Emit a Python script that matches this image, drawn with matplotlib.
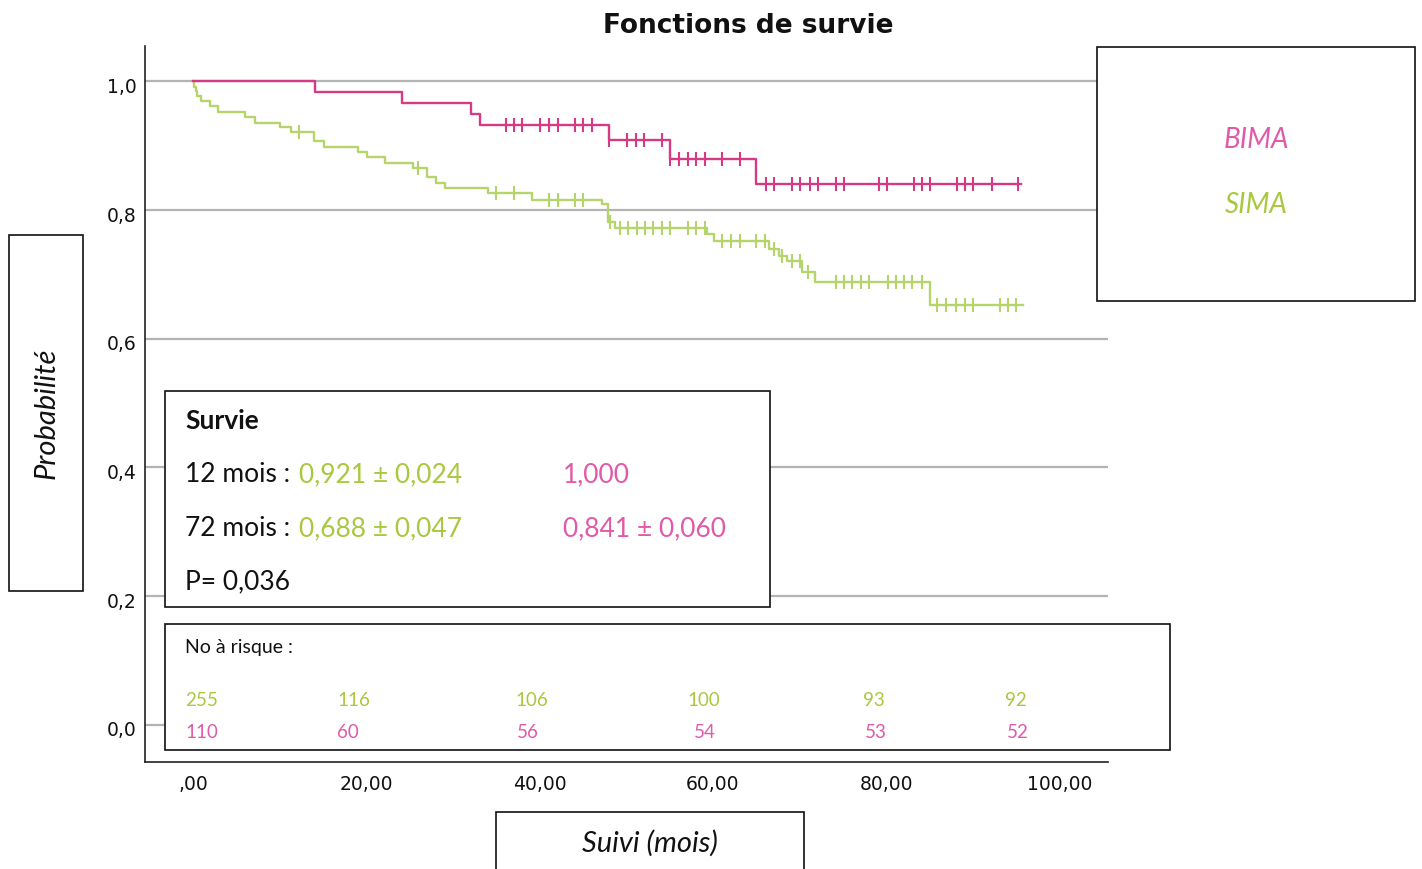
import numpy as np
import matplotlib
matplotlib.use("Agg")
import matplotlib.pyplot as plt
from matplotlib.patches import Rectangle
from matplotlib.transforms import ScaledTranslation

# ---------------- data ----------------
title = "Fonctions de survie"
groups = ["BIMA", "SIMA"]

# SIMA (green) Kaplan-Meier: event times (months) and survival after each event
sima_event_t = [0.1, 0.3, 0.5, 0.9, 2.0, 2.9, 6.0, 7.2, 10.0, 11.3, 14.0, 15.1, 19.1,
                20.1, 22.2, 25.4, 27.0, 28.1, 29.1, 34.1, 39.1, 47.2, 47.9, 48.7,
                59.3, 60.1, 66.5, 67.6, 68.5, 70.3, 71.8, 85.1]
sima_event_s = [0.992, 0.985, 0.977, 0.970, 0.962, 0.953, 0.945, 0.936, 0.929, 0.921,
                0.907, 0.898, 0.891, 0.882, 0.873, 0.866, 0.851, 0.842, 0.834, 0.826,
                0.816, 0.809, 0.782, 0.772, 0.763, 0.752, 0.740, 0.729, 0.721, 0.704,
                0.688, 0.652]
sima_censor_t = [12.2, 26.0, 35.0, 37.0, 41.1, 42.1, 44.1, 45.0, 48.1, 49.3, 50.2, 51.2,
                 52.2, 53.1, 54.1, 55.0, 57.1, 58.1, 59.1, 61.1, 62.1, 63.1, 65.0, 66.0,
                 67.0, 68.0, 69.1, 70.0, 71.0, 74.2, 75.1, 76.1, 77.1, 78.0, 80.2, 81.1,
                 82.1, 83.0, 84.1, 85.9, 86.9, 88.1, 89.1, 90.0, 93.1, 94.1, 95.0]
sima_end = 95.8

# BIMA (pink)
bima_event_t = [14.1, 24.1, 32.1, 33.1, 48.0, 55.0, 65.0]
bima_event_s = [0.983, 0.966, 0.949, 0.932, 0.909, 0.880, 0.841]
bima_censor_t = [36.1, 37.0, 38.0, 40.0, 41.1, 42.1, 44.1, 45.0, 46.1, 48.0, 50.1, 51.1,
                 52.1, 54.1, 55.1, 56.1, 57.1, 58.1, 59.1, 61.1, 63.1, 66.1, 67.0, 69.1,
                 70.1, 71.2, 72.1, 74.2, 75.1, 79.2, 80.1, 83.2, 84.1, 85.0, 88.2, 89.1,
                 90.0, 92.2, 95.2]
bima_end = 95.6

x_ticks = [0, 20, 40, 60, 80, 100]
x_ticklabels = [",00", "20,00", "40,00", "60,00", "80,00", "100,00"]
y_ticks = [0.0, 0.2, 0.4, 0.6, 0.8, 1.0]
y_ticklabels = ["0,0", "0,2", "0,4", "0,6", "0,8", "1,0"]

survie_rows = [("12 mois : ", "0,921 ± 0,024", "1,000"),
               ("72 mois : ", "0,688 ± 0,047", "0,841 ± 0,060")]
p_value_text = "P= 0,036"
risk_sima = ["255", "116", "106", "100", "93", "92"]
risk_bima = ["110", "60", "56", "54", "53", "52"]

# ---------------- style ----------------
W, H = 1422, 870
PINK = "#d63a85"
GREEN = "#b5d56a"
PINK_T = "#e05aa8"
GREEN_T = "#a9c83f"
BOXFONT = "Lato"

fig = plt.figure(figsize=(W / 100, H / 100), dpi=100)
ax = fig.add_axes([145 / W, 1 - 763 / H, (1108 - 145) / W, (763 - 47) / H])


def km_steps(t, s, end):
    tt = np.concatenate([[0.0], np.asarray(t, float), [end]])
    ss = np.concatenate([[1.0], np.asarray(s, float), [s[-1]]])
    return tt, ss


def surv_at(t_query, t, s):
    t = np.asarray(t, float)
    s = np.asarray(s, float)
    idx = np.searchsorted(t, np.asarray(t_query, float), side="right") - 1
    return np.where(idx >= 0, s[np.clip(idx, 0, None)], 1.0)


for et, es, ct, end, col in [(sima_event_t, sima_event_s, sima_censor_t, sima_end, GREEN),
                             (bima_event_t, bima_event_s, bima_censor_t, bima_end, PINK)]:
    tt, ss = km_steps(et, es, end)
    ax.step(tt, ss, where="post", color=col, lw=1.7, zorder=3)
    ax.plot(ct, surv_at(ct, et, es), ls="none", marker="|", ms=10, mew=1.5,
            color=col, zorder=4)

ax.set_xlim(-5.54, 105.6)
ax.set_ylim(-0.058, 1.055)
ax.set_yticks(y_ticks)
ax.set_yticklabels(y_ticklabels)
ax.set_xticks(x_ticks)
ax.set_xticklabels(x_ticklabels)
ax.tick_params(axis="both", length=0, labelsize=13.5, colors="#111111")
ax.tick_params(axis="y", pad=6)
ax.tick_params(axis="x", pad=9)
off = ScaledTranslation(0, -3 / 100, fig.dpi_scale_trans)
for lbl in ax.get_yticklabels():
    lbl.set_transform(lbl.get_transform() + off)
ax.yaxis.grid(True, color="#b4b4b4", lw=1.6)
ax.set_axisbelow(True)
for side in ["top", "right"]:
    ax.spines[side].set_visible(False)
for side in ["left", "bottom"]:
    ax.spines[side].set_color("#222222")
    ax.spines[side].set_linewidth(1.2)

fig.text(748 / W, 1 - 26 / H, title, ha="center", va="center",
         fontsize=19, fontweight="bold", color="#111111")


def box(x0, y0, x1, y1):
    r = Rectangle((x0 / W, 1 - y1 / H), (x1 - x0) / W, (y1 - y0) / H,
                  transform=fig.transFigure, facecolor="white", edgecolor="#111111",
                  lw=1.2, zorder=5)
    fig.add_artist(r)


def ftext(x, y, s, **kw):
    kw.setdefault("ha", "left")
    kw.setdefault("va", "center")
    kw.setdefault("family", BOXFONT)
    return fig.text(x / W, 1 - y / H, s, zorder=6, **kw)


# legend box
box(1097, 48, 1415, 302)
ftext(1256, 140, groups[0], ha="center", fontsize=20, style="italic", color=PINK_T)
ftext(1256, 205, groups[1], ha="center", fontsize=20, style="italic", color=GREEN_T)

# y label box
box(9, 236, 83, 592)
ftext(47, 413, "Probabilité", ha="center", fontsize=21, style="italic",
      rotation=90, color="#111111")

# x label box
box(496, 813, 804, 880)
ftext(650, 843, "Suivi (mois)", ha="center", fontsize=21, style="italic",
      color="#111111")

# survival summary box
BF = 19
box(165, 392, 770, 608)
ftext(185, 421, "Survie", fontsize=BF, fontweight="bold", color="#111111")
for (lab, g, p), yy in zip(survie_rows, [475, 529]):
    ftext(185, yy, lab, fontsize=BF, color="#111111")
    ftext(299, yy, g, fontsize=BF, color=GREEN_T)
    ftext(563, yy, p, fontsize=BF, color=PINK_T)
ftext(185, 582, p_value_text, fontsize=BF, color="#111111")

# number at risk box
box(165, 625, 1170, 751)
ftext(185, 648, "No à risque :", fontsize=14, color="#111111")
x_g = [185, 337, 515, 687, 863, 1005]
x_p = [185, 337, 517, 694, 865, 1007]
for xg, xp, sg, sp in zip(x_g, x_p, risk_sima, risk_bima):
    ftext(xg, 701, sg, fontsize=13.5, color=GREEN_T)
    ftext(xp, 733, sp, fontsize=13.5, color=PINK_T)

fig.savefig("out.png", dpi=100)
